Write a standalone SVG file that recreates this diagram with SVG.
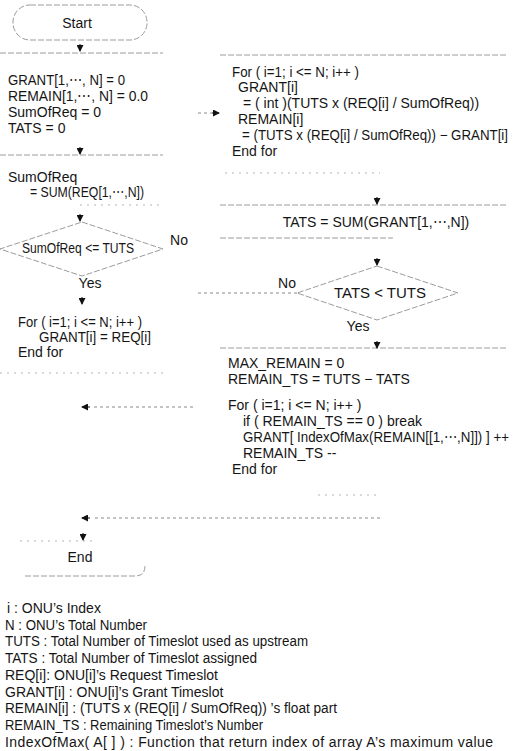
<svg xmlns="http://www.w3.org/2000/svg" width="521" height="751" viewBox="0 0 521 751">
<defs>
<marker id="ah" markerUnits="userSpaceOnUse" markerWidth="7" markerHeight="7" refX="6" refY="3.5" orient="auto">
<path d="M0,0 L7,3.5 L0,7 z" fill="#111"/>
</marker>
<style>
text{font-family:"Liberation Sans",Arial,sans-serif;font-size:14px;fill:#151515}
.m{text-anchor:middle}
.edge{fill:none;stroke:#9c9c9c;stroke-width:1;stroke-dasharray:6 2}
.faint{fill:none;stroke:#b4b4b4;stroke-width:1;stroke-dasharray:2 5}
.conn{fill:none;stroke:#8a8a8a;stroke-width:1;stroke-dasharray:3 3}
.stem{fill:none;stroke:#111;stroke-width:1}
</style>
</defs>
<rect width="521" height="751" fill="#fff"/>

<g id="start">
<rect class="edge" x="13" y="5" width="134" height="35" rx="17"/>
<text class="m" x="77" y="28">Start</text>
</g>

<g id="init">
<path class="edge" d="M0,53 H163"/>
<text x="8" y="85" textLength="117" lengthAdjust="spacingAndGlyphs">GRANT[1,⋯, N] = 0</text>
<text x="8" y="101" textLength="140" lengthAdjust="spacingAndGlyphs">REMAIN[1,⋯, N] = 0.0</text>
<text x="8" y="117">SumOfReq = 0</text>
<text x="8" y="133">TATS = 0</text>
</g>

<g id="sum">
<path class="edge" d="M0,155 H163"/>
<path class="faint" d="M80,205 H163"/>
<text x="8" y="182">SumOfReq</text>
<text x="30" y="197" textLength="114" lengthAdjust="spacingAndGlyphs">= SUM(REQ[1,⋯,N])</text>
</g>

<g id="cond1">
<path class="edge" d="M82,222 L163,249 L82,276 L0,249 Z"/>
<text class="m" x="78" y="253" textLength="112" lengthAdjust="spacingAndGlyphs">SumOfReq &lt;= TUTS</text>
</g>

<g id="grantall">
<path class="faint" d="M0,373 H163"/>
<text x="18" y="327" textLength="124" lengthAdjust="spacingAndGlyphs">For ( i=1; i &lt;= N; i++ )</text>
<text x="39" y="342" textLength="112" lengthAdjust="spacingAndGlyphs">GRANT[i] = REQ[i]</text>
<text x="18" y="357">End for</text>
</g>

<g id="end">
<path class="faint" d="M20,541 H95"/>
<path class="edge" d="M25,576 H135 Q145,576 145,566"/>
<text class="m" x="80" y="562">End</text>
</g>

<g id="prop">
<path class="edge" d="M220,55 H507"/>
<path class="faint" d="M225,173 H380"/>
<text x="232" y="77" textLength="127" lengthAdjust="spacingAndGlyphs">For ( i=1; i &lt;= N; i++ )</text>
<text x="238" y="92">GRANT[i]</text>
<text x="243" y="108">= ( int )(TUTS x (REQ[i] / SumOfReq))</text>
<text x="238" y="124">REMAIN[i]</text>
<text x="242" y="140" textLength="266" lengthAdjust="spacingAndGlyphs">= (TUTS x (REQ[i] / SumOfReq)) − GRANT[i]</text>
<text x="232" y="156">End for</text>
</g>

<g id="tats">
<path class="edge" d="M220,205 H507"/>
<path class="edge" d="M220,238 H393"/>
<text class="m" x="376" y="227">TATS = SUM(GRANT[1,⋯,N])</text>
</g>

<g id="cond2">
<path class="edge" d="M377,266 L458,293 L377,320 L297,293 Z"/>
<text class="m" x="380" y="298" textLength="92" lengthAdjust="spacingAndGlyphs">TATS &lt; TUTS</text>
</g>

<g id="distribute">
<path class="edge" d="M220,348 H507"/>
<path class="faint" d="M318,495 H378"/>
<text x="228" y="368">MAX_REMAIN = 0</text>
<text x="228" y="384">REMAIN_TS = TUTS − TATS</text>
<text x="228" y="410">For ( i=1; i &lt;= N; i++ )</text>
<text x="243" y="426">if ( REMAIN_TS == 0 ) break</text>
<text x="243" y="442" textLength="266" lengthAdjust="spacingAndGlyphs">GRANT[ IndexOfMax(REMAIN[[1,⋯,N]]) ] ++</text>
<text x="243" y="458">REMAIN_TS --</text>
<text x="232" y="474">End for</text>
</g>

<g id="connectors">
<path class="stem" d="M80,44 V51" marker-end="url(#ah)"/>
<path class="stem" d="M80,147 V154" marker-end="url(#ah)"/>
<path class="stem" d="M80,214 V221" marker-end="url(#ah)"/>
<path class="stem" d="M82,297 V304" marker-end="url(#ah)"/>
<path class="conn" d="M198,113 H212"/>
<path class="stem" d="M212,113 H219" marker-end="url(#ah)"/>
<path class="stem" d="M377,197 V204" marker-end="url(#ah)"/>
<path class="stem" d="M377,258 V265" marker-end="url(#ah)"/>
<path class="stem" d="M377,341 V348" marker-end="url(#ah)"/>
<path class="conn" d="M297,293 H198"/>
<path class="conn" d="M193,407 H92"/>
<path class="stem" d="M90,407 H82" marker-end="url(#ah)"/>
<path class="conn" d="M380,518 H92"/>
<path class="stem" d="M90,518 H82" marker-end="url(#ah)"/>
<path class="stem" d="M83,533 V540" marker-end="url(#ah)"/>
<text class="m" x="179" y="245">No</text>
<text class="m" x="90" y="288">Yes</text>
<text class="m" x="287" y="288">No</text>
<text class="m" x="358" y="331">Yes</text>
</g>

<g id="legend">
<text x="7" y="613">i : ONU’s Index</text>
<text x="5" y="630" textLength="142" lengthAdjust="spacingAndGlyphs">N : ONU’s Total Number</text>
<text x="5" y="646" textLength="303" lengthAdjust="spacingAndGlyphs">TUTS : Total Number of Timeslot used as upstream</text>
<text x="5" y="663" textLength="252" lengthAdjust="spacingAndGlyphs">TATS : Total Number of Timeslot assigned</text>
<text x="5" y="680">REQ[i]: ONU[i]’s Request Timeslot</text>
<text x="5" y="697">GRANT[i] : ONU[i]’s Grant Timeslot</text>
<text x="5" y="713" textLength="332" lengthAdjust="spacingAndGlyphs">REMAIN[i] : (TUTS x (REQ[i] / SumOfReq)) ’s float part</text>
<text x="5" y="730" textLength="258" lengthAdjust="spacingAndGlyphs">REMAIN_TS : Remaining Timeslot’s Number</text>
<text x="5" y="747" textLength="488" lengthAdjust="spacing">IndexOfMax( A[ ] ) : Function that return index of array A’s maximum value</text>
</g>
</svg>
